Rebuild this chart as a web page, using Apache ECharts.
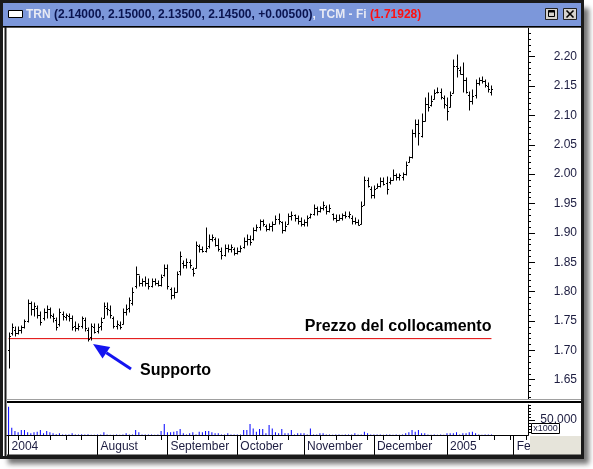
<!DOCTYPE html>
<html>
<head>
<meta charset="utf-8">
<title>TRN</title>
<script src="https://cdn.jsdelivr.net/npm/echarts@6/dist/echarts.min.js"></script>
<style>
  html, body { margin: 0; padding: 0; background: #fff; }
  #chart { width: 593px; height: 469px; }
</style>
</head>
<body>
<div id="chart"></div>
<script>
// trading days (weekdays) from the listing day to the right edge of the chart
var dates = []
for (var d = new Date(Date.UTC(2004, 5, 23)); d <= Date.UTC(2005, 1, 7); d.setUTCDate(d.getUTCDate() + 1)) {
  var wd = d.getUTCDay()
  if (wd > 0 && wd < 6) dates.push(d.toISOString().slice(0, 10))
}

// month separators on the time axis
var monthLabels = {
  '2004-06-23': '2004',
  '2004-08-02': 'August',
  '2004-09-01': 'September',
  '2004-10-01': 'October',
  '2004-11-01': 'November',
  '2004-12-01': 'December',
  '2005-01-03': '2005',
  '2005-02-01': 'February'
}

// daily bars: [open, close, low, high]
var ohlc = [
  [1.700, 1.725, 1.670, 1.730], [1.730, 1.740, 1.726, 1.745], [1.735, 1.730, 1.725, 1.740],
  [1.730, 1.735, 1.728, 1.740], [1.735, 1.740, 1.730, 1.742], [1.740, 1.750, 1.738, 1.752],
  [1.750, 1.780, 1.748, 1.786], [1.780, 1.770, 1.760, 1.782], [1.770, 1.775, 1.758, 1.780],
  [1.772, 1.760, 1.755, 1.775], [1.760, 1.748, 1.743, 1.765], [1.755, 1.765, 1.752, 1.770],
  [1.765, 1.770, 1.755, 1.775], [1.770, 1.760, 1.755, 1.772], [1.758, 1.755, 1.748, 1.762],
  [1.752, 1.740, 1.735, 1.755], [1.745, 1.765, 1.742, 1.770], [1.762, 1.758, 1.752, 1.765],
  [1.757, 1.760, 1.752, 1.762], [1.758, 1.755, 1.750, 1.762], [1.755, 1.740, 1.735, 1.758],
  [1.742, 1.738, 1.733, 1.748], [1.738, 1.742, 1.734, 1.745], [1.742, 1.755, 1.738, 1.757],
  [1.752, 1.738, 1.733, 1.755], [1.735, 1.720, 1.716, 1.738], [1.722, 1.742, 1.718, 1.745],
  [1.740, 1.732, 1.730, 1.745], [1.733, 1.740, 1.730, 1.745], [1.742, 1.748, 1.735, 1.755],
  [1.755, 1.775, 1.755, 1.780], [1.772, 1.770, 1.760, 1.780], [1.768, 1.760, 1.755, 1.775],
  [1.755, 1.742, 1.738, 1.757], [1.742, 1.745, 1.737, 1.750], [1.744, 1.740, 1.736, 1.748],
  [1.745, 1.765, 1.745, 1.770], [1.765, 1.770, 1.760, 1.778], [1.772, 1.785, 1.765, 1.790],
  [1.780, 1.800, 1.777, 1.806], [1.810, 1.830, 1.807, 1.842], [1.830, 1.815, 1.810, 1.826],
  [1.815, 1.818, 1.810, 1.822], [1.818, 1.815, 1.810, 1.825], [1.815, 1.810, 1.805, 1.822],
  [1.810, 1.818, 1.808, 1.822], [1.818, 1.815, 1.812, 1.822], [1.815, 1.812, 1.810, 1.818],
  [1.812, 1.825, 1.810, 1.828], [1.828, 1.840, 1.826, 1.845], [1.840, 1.810, 1.805, 1.845],
  [1.805, 1.795, 1.788, 1.806], [1.795, 1.800, 1.790, 1.806], [1.800, 1.830, 1.800, 1.834],
  [1.835, 1.860, 1.828, 1.868], [1.848, 1.845, 1.840, 1.852], [1.845, 1.850, 1.840, 1.856],
  [1.850, 1.845, 1.840, 1.854], [1.838, 1.832, 1.826, 1.840], [1.840, 1.880, 1.840, 1.885],
  [1.878, 1.872, 1.868, 1.880], [1.872, 1.870, 1.868, 1.876], [1.870, 1.875, 1.868, 1.908],
  [1.878, 1.890, 1.874, 1.896], [1.890, 1.893, 1.887, 1.897], [1.890, 1.880, 1.877, 1.892],
  [1.880, 1.872, 1.870, 1.890], [1.870, 1.862, 1.856, 1.874], [1.862, 1.875, 1.860, 1.880],
  [1.875, 1.872, 1.868, 1.880], [1.872, 1.876, 1.867, 1.880], [1.872, 1.866, 1.862, 1.874],
  [1.866, 1.870, 1.864, 1.874], [1.870, 1.874, 1.867, 1.878], [1.876, 1.886, 1.874, 1.892],
  [1.886, 1.890, 1.880, 1.896], [1.890, 1.884, 1.880, 1.894], [1.890, 1.905, 1.888, 1.908],
  [1.905, 1.910, 1.903, 1.914], [1.910, 1.920, 1.905, 1.922], [1.920, 1.915, 1.911, 1.922],
  [1.912, 1.906, 1.903, 1.914], [1.906, 1.912, 1.905, 1.916], [1.912, 1.915, 1.903, 1.919],
  [1.916, 1.924, 1.916, 1.928], [1.924, 1.920, 1.916, 1.933], [1.918, 1.905, 1.899, 1.919],
  [1.905, 1.912, 1.903, 1.919], [1.916, 1.928, 1.916, 1.933], [1.928, 1.930, 1.922, 1.936],
  [1.930, 1.925, 1.920, 1.931], [1.925, 1.920, 1.916, 1.928], [1.920, 1.915, 1.911, 1.925],
  [1.915, 1.918, 1.911, 1.922], [1.918, 1.925, 1.911, 1.928], [1.927, 1.932, 1.925, 1.933],
  [1.932, 1.942, 1.930, 1.947], [1.942, 1.938, 1.930, 1.944], [1.938, 1.942, 1.936, 1.944],
  [1.942, 1.948, 1.939, 1.953], [1.944, 1.938, 1.933, 1.945], [1.938, 1.942, 1.936, 1.947],
  [1.932, 1.926, 1.922, 1.933], [1.926, 1.922, 1.919, 1.931], [1.922, 1.926, 1.922, 1.931],
  [1.926, 1.930, 1.922, 1.933], [1.930, 1.928, 1.925, 1.936], [1.928, 1.932, 1.925, 1.936],
  [1.926, 1.920, 1.916, 1.928], [1.920, 1.918, 1.916, 1.925], [1.918, 1.914, 1.913, 1.922],
  [1.916, 1.945, 1.916, 1.953], [1.948, 1.990, 1.947, 1.996], [1.990, 1.980, 1.979, 1.993],
  [1.975, 1.965, 1.960, 1.979], [1.965, 1.975, 1.960, 1.980], [1.976, 1.980, 1.976, 1.984],
  [1.980, 1.988, 1.979, 1.993], [1.988, 1.984, 1.982, 1.993], [1.985, 1.975, 1.967, 1.996],
  [1.986, 1.990, 1.984, 1.993], [1.990, 1.998, 1.990, 2.007], [1.998, 1.995, 1.990, 2.001],
  [1.995, 1.998, 1.990, 2.001], [1.996, 2.000, 1.990, 2.002], [2.000, 2.015, 1.999, 2.020],
  [2.020, 2.030, 2.020, 2.030], [2.030, 2.070, 2.028, 2.075], [2.070, 2.085, 2.064, 2.092],
  [2.085, 2.070, 2.050, 2.092], [2.065, 2.090, 2.064, 2.103], [2.090, 2.120, 2.090, 2.130],
  [2.120, 2.115, 2.108, 2.138], [2.118, 2.125, 2.116, 2.133], [2.128, 2.138, 2.128, 2.143],
  [2.140, 2.140, 2.138, 2.147], [2.140, 2.132, 2.128, 2.145], [2.130, 2.120, 2.112, 2.133],
  [2.118, 2.108, 2.092, 2.129], [2.115, 2.135, 2.115, 2.140], [2.138, 2.185, 2.138, 2.194],
  [2.185, 2.180, 2.165, 2.203], [2.178, 2.170, 2.170, 2.183], [2.170, 2.160, 2.140, 2.190],
  [2.160, 2.140, 2.138, 2.163], [2.135, 2.125, 2.109, 2.140], [2.125, 2.133, 2.120, 2.143],
  [2.135, 2.155, 2.130, 2.160], [2.155, 2.160, 2.152, 2.163], [2.160, 2.158, 2.155, 2.165],
  [2.158, 2.152, 2.148, 2.160], [2.150, 2.145, 2.140, 2.155], [2.140, 2.145, 2.135, 2.150]
]

// volume, x1000 shares
var volume = [
  94000, 24000, 13000, 9000, 17000, 17000, 9000, 5500, 9000, 11000,
  17000, 5500, 13000, 9000, 5500, 2500, 5500, 1500, 2000, 1500,
  5500, 2000, 2000, 2500, 2000, 2500, 1000, 1000, 2000, 2000,
  9000, 2000, 1000, 1000, 1500, 1000, 1500, 5500, 2000, 1500,
  17000, 9000, 1500, 2000, 1500, 2000, 1000, 2000, 13000, 37000,
  9000, 9000, 11000, 13000, 20000, 5500, 2000, 5500, 9000, 2000,
  11000, 9000, 13000, 13000, 9000, 5500, 5500, 2000, 1500, 5500,
  2000, 1500, 1500, 1500, 17000, 17000, 37000, 22000, 11000, 20000,
  20000, 5500, 33000, 22000, 9000, 5500, 20000, 5500, 5500, 17000,
  2000, 5500, 5500, 5500, 2000, 22000, 2000, 1500, 5500, 5500,
  1500, 2000, 1000, 2000, 1500, 1000, 1500, 2000, 1500, 5500,
  1500, 2000, 11000, 5500, 1500, 2000, 2000, 1500, 1000, 2000,
  1500, 1000, 1500, 1000, 2000, 5500, 9000, 17000, 11000, 17000,
  5500, 5500, 1500, 1000, 1500, 1000, 1500, 1000, 5500, 5500,
  5500, 9000, 2000, 5500, 5500, 9000, 11000, 5500, 1500, 1000,
  2000, 2000, 2000
]

var ipoPrice = 1.72
var priceTicks = [1.65, 1.70, 1.75, 1.80, 1.85, 1.90, 1.95, 2.00, 2.05, 2.10, 2.15, 2.20]
var priceMinorTicks = []
for (var p = 162; p <= 224; p++) priceMinorTicks.push(p / 100)
var volumeTicks = [50000]
var volumeMinorTicks = [10000, 20000, 30000, 40000, 60000, 70000, 80000, 90000, 100000]

var FONT = 'Liberation Sans'
var AXIS_TEXT = '#1c1c40'

function isMonthStart(i, v) {
  return monthLabels[v] !== undefined
}
function isMonday(i, v) {
  return new Date(v + 'T00:00:00Z').getUTCDay() === 1
}

// OHLC bar: vertical high-low line, open tick left, close tick right
function renderOhlc(params, api) {
  var idx = api.value(0)
  var o = api.coord([idx, api.value(1)])
  var c = api.coord([idx, api.value(2)])
  var l = api.coord([idx, api.value(3)])
  var h = api.coord([idx, api.value(4)])
  var x = Math.round(o[0]) + 0.5
  var st = { stroke: '#000', lineWidth: 1 }
  return {
    type: 'group',
    children: [
      { type: 'line', shape: { x1: x, y1: Math.round(l[1]) + 0.5, x2: x, y2: Math.round(h[1]) - 0.5 }, style: st },
      { type: 'line', shape: { x1: x - 1.5, y1: Math.round(o[1]) + 0.5, x2: x, y2: Math.round(o[1]) + 0.5 }, style: st },
      { type: 'line', shape: { x1: x, y1: Math.round(c[1]) + 0.5, x2: x + 1.5, y2: Math.round(c[1]) + 0.5 }, style: st }
    ]
  }
}

var chart = echarts.init(document.getElementById('chart'), null, { renderer: 'canvas' })

chart.setOption({
  animation: false,
  backgroundColor: '#fff',
  textStyle: { fontFamily: FONT },
  grid: [
    { left: 7, right: 65, top: 28, height: 371 },
    { left: 7, right: 65, top: 405, height: 30 }
  ],
  xAxis: [
    { type: 'category', gridIndex: 0, data: dates, show: false },
    {
      type: 'category', gridIndex: 1, data: dates, position: 'bottom',
      axisLine: { show: true, lineStyle: { color: '#000', width: 1 } },
      axisTick: { show: true, alignWithLabel: true, interval: isMonday, length: 5, lineStyle: { color: '#000', width: 1 } },
      axisLabel: { show: false }
    },
    {
      type: 'category', gridIndex: 1, data: dates, position: 'bottom',
      axisLine: { show: true, lineStyle: { color: '#000', width: 1 } },
      axisTick: { show: true, alignWithLabel: true, interval: isMonthStart, length: 20, lineStyle: { color: '#000', width: 1 } },
      axisLabel: {
        interval: isMonthStart,
        formatter: function(v) { return monthLabels[v] || '' },
        align: 'left', margin: 6, padding: [0, 0, 0, 3],
        color: AXIS_TEXT, fontSize: 12, fontFamily: FONT
      }
    }
  ],
  yAxis: [
    {
      type: 'value', gridIndex: 0, position: 'right', min: 1.6172, max: 2.2489,
      axisLine: { show: true, lineStyle: { color: '#000' } },
      axisTick: { show: true, length: 7, customValues: priceTicks, lineStyle: { color: '#000' } },
      axisLabel: {
        customValues: priceTicks, align: 'right', margin: 49,
        formatter: function(v) { return v.toFixed(2) },
        color: AXIS_TEXT, fontSize: 12, fontFamily: FONT
      },
      splitLine: { show: false }
    },
    {
      type: 'value', gridIndex: 0, position: 'right', min: 1.6172, max: 2.2489,
      axisLine: { show: false },
      axisTick: { show: true, length: 3, customValues: priceMinorTicks, lineStyle: { color: '#000' } },
      axisLabel: { show: false },
      splitLine: { show: false }
    },
    {
      type: 'value', gridIndex: 1, position: 'right', min: 0, max: 100000,
      axisLine: { show: true, lineStyle: { color: '#000' } },
      axisTick: { show: true, length: 7, customValues: volumeTicks, lineStyle: { color: '#000' } },
      axisLabel: {
        customValues: volumeTicks, align: 'right', margin: 49,
        color: AXIS_TEXT, fontSize: 12, fontFamily: FONT
      },
      splitLine: { show: false }
    },
    {
      type: 'value', gridIndex: 1, position: 'right', min: 0, max: 100000,
      axisLine: { show: false },
      axisTick: { show: true, length: 3, customValues: volumeMinorTicks, lineStyle: { color: '#000' } },
      axisLabel: { show: false },
      splitLine: { show: false }
    }
  ],
  series: [
    {
      type: 'custom',
      xAxisIndex: 0, yAxisIndex: 0,
      renderItem: renderOhlc,
      encode: { x: 0, y: [1, 2, 3, 4] },
      data: ohlc.map(function(r, i) { return [i, r[0], r[1], r[2], r[3]] }),
      z: 3
    },
    {
      type: 'line',
      xAxisIndex: 0, yAxisIndex: 0,
      data: [[dates[0], ipoPrice], [dates[ohlc.length - 1], ipoPrice]],
      symbol: 'none',
      lineStyle: { color: '#e00000', width: 1 },
      z: 2
    },
    {
      type: 'bar',
      xAxisIndex: 1, yAxisIndex: 2,
      data: volume,
      barWidth: 1,
      itemStyle: { color: '#0000ff' }
    }
  ]
})

// window frame, title bar and annotations
var tip = chart.convertToPixel({ xAxisIndex: 0, yAxisIndex: 0 }, [dates[25], ohlc[25][2]])
tip = [tip[0] + 5, tip[1] + 3]
var tail = [tip[0] + 38, tip[1] + 25]
var len = Math.sqrt(38 * 38 + 25 * 25)
var ux = 38 / len, uy = 25 / len
var base = [tip[0] + ux * 16, tip[1] + uy * 16]
var lineEnd = chart.convertToPixel({ xAxisIndex: 0, yAxisIndex: 0 }, [dates[ohlc.length - 1], ipoPrice])

chart.setOption({
  graphic: [
    // window shadow + border
    { type: 'rect', z: -10, shape: { x: 2, y: 2, width: 581, height: 456 },
      style: { fill: '#fff', shadowBlur: 5, shadowOffsetX: 6, shadowOffsetY: 6, shadowColor: 'rgba(0,0,0,0.55)' } },
    { type: 'rect', z: 100, shape: { x: 1.5, y: 1.5, width: 581, height: 456 },
      style: { fill: 'none', stroke: '#1a1a1a', lineWidth: 3 } },
    // title bar
    { type: 'rect', z: 100, shape: { x: 3, y: 3, width: 578, height: 23 }, style: { fill: '#7c97da' } },
    { type: 'line', z: 100, shape: { x1: 3, y1: 26.5, x2: 581, y2: 26.5 }, style: { stroke: '#000', lineWidth: 1 } },
    { type: 'line', z: 100, shape: { x1: 3, y1: 27.5, x2: 581, y2: 27.5 }, style: { stroke: '#555', lineWidth: 1 } },
    { type: 'rect', z: 101, shape: { x: 8.5, y: 10.5, width: 14, height: 7 }, style: { fill: '#fff', stroke: '#000', lineWidth: 1 } },
    {
      type: 'text', z: 101, x: 26, y: 15,
      style: {
        text: '{w|TRN} {n|(2.14000, 2.15000, 2.13500, 2.14500, +0.00500)}{w|, TCM - Fi} {r|(1.71928)}',
        verticalAlign: 'middle',
        font: 'bold 12px "Liberation Sans"',
        rich: {
          w: { fill: '#e8eaf4', font: 'bold 12px "Liberation Sans"' },
          n: { fill: '#0a1450', font: 'bold 12px "Liberation Sans"' },
          r: { fill: '#ff1010', font: 'bold 12px "Liberation Sans"' }
        }
      }
    },
    // maximize / close buttons
    { type: 'rect', z: 101, shape: { x: 545.5, y: 8.5, width: 12, height: 11 }, style: { fill: '#d6d3ce', stroke: '#202020', lineWidth: 1 } },
    { type: 'rect', z: 102, shape: { x: 548.5, y: 10.5, width: 6, height: 6 }, style: { fill: 'none', stroke: '#000', lineWidth: 1 } },
    { type: 'line', z: 102, shape: { x1: 548.5, y1: 11.5, x2: 554.5, y2: 11.5 }, style: { stroke: '#000', lineWidth: 2 } },
    { type: 'rect', z: 101, shape: { x: 563.5, y: 8.5, width: 13, height: 11 }, style: { fill: '#d6d3ce', stroke: '#202020', lineWidth: 1 } },
    { type: 'line', z: 102, shape: { x1: 566.5, y1: 10.5, x2: 573.5, y2: 17.5 }, style: { stroke: '#000', lineWidth: 1.6 } },
    { type: 'line', z: 102, shape: { x1: 573.5, y1: 10.5, x2: 566.5, y2: 17.5 }, style: { stroke: '#000', lineWidth: 1.6 } },
    // inner frame lines
    { type: 'line', z: 100, shape: { x1: 5.5, y1: 27, x2: 5.5, y2: 457 }, style: { stroke: '#1a1a1a', lineWidth: 2 } },
    { type: 'line', z: 100, shape: { x1: 7, y1: 399.5, x2: 581, y2: 399.5 }, style: { stroke: '#a0a0a0', lineWidth: 1 } },
    { type: 'line', z: 100, shape: { x1: 7, y1: 402, x2: 581, y2: 402 }, style: { stroke: '#000', lineWidth: 2 } },
    { type: 'rect', z: 100, shape: { x: 530, y: 436, width: 51, height: 20 }, style: { fill: '#e6e4da' } },
    { type: 'line', z: 100, shape: { x1: 7, y1: 455.5, x2: 581, y2: 455.5 }, style: { stroke: '#1a1a1a', lineWidth: 2 } },
    // volume multiplier box
    { type: 'rect', z: 101, shape: { x: 531.5, y: 423.5, width: 28, height: 10 }, style: { fill: '#fff', stroke: '#000', lineWidth: 1 } },
    { type: 'text', z: 102, x: 545.5, y: 428.5,
      style: { text: 'x1000', align: 'center', verticalAlign: 'middle', font: '9px "Liberation Sans"', fill: '#1c1c40' } },
    // annotations
    { type: 'text', z: 50, x: lineEnd[0], y: lineEnd[1] - 12,
      style: { text: 'Prezzo del collocamento', align: 'right', verticalAlign: 'middle', font: 'bold 16px "Liberation Sans"', fill: '#000' } },
    { type: 'line', z: 50, shape: { x1: base[0], y1: base[1], x2: tail[0], y2: tail[1] },
      style: { stroke: '#1414f0', lineWidth: 3 } },
    { type: 'polygon', z: 50,
      shape: { points: [tip, [base[0] - uy * 7, base[1] + ux * 7], [base[0] + uy * 7, base[1] - ux * 7]] },
      style: { fill: '#1414f0' } },
    { type: 'text', z: 50, x: tip[0] + 47, y: tip[1] + 27,
      style: { text: 'Supporto', align: 'left', verticalAlign: 'middle', font: 'bold 16px "Liberation Sans"', fill: '#000' } }
  ]
})
</script>
</body>
</html>
